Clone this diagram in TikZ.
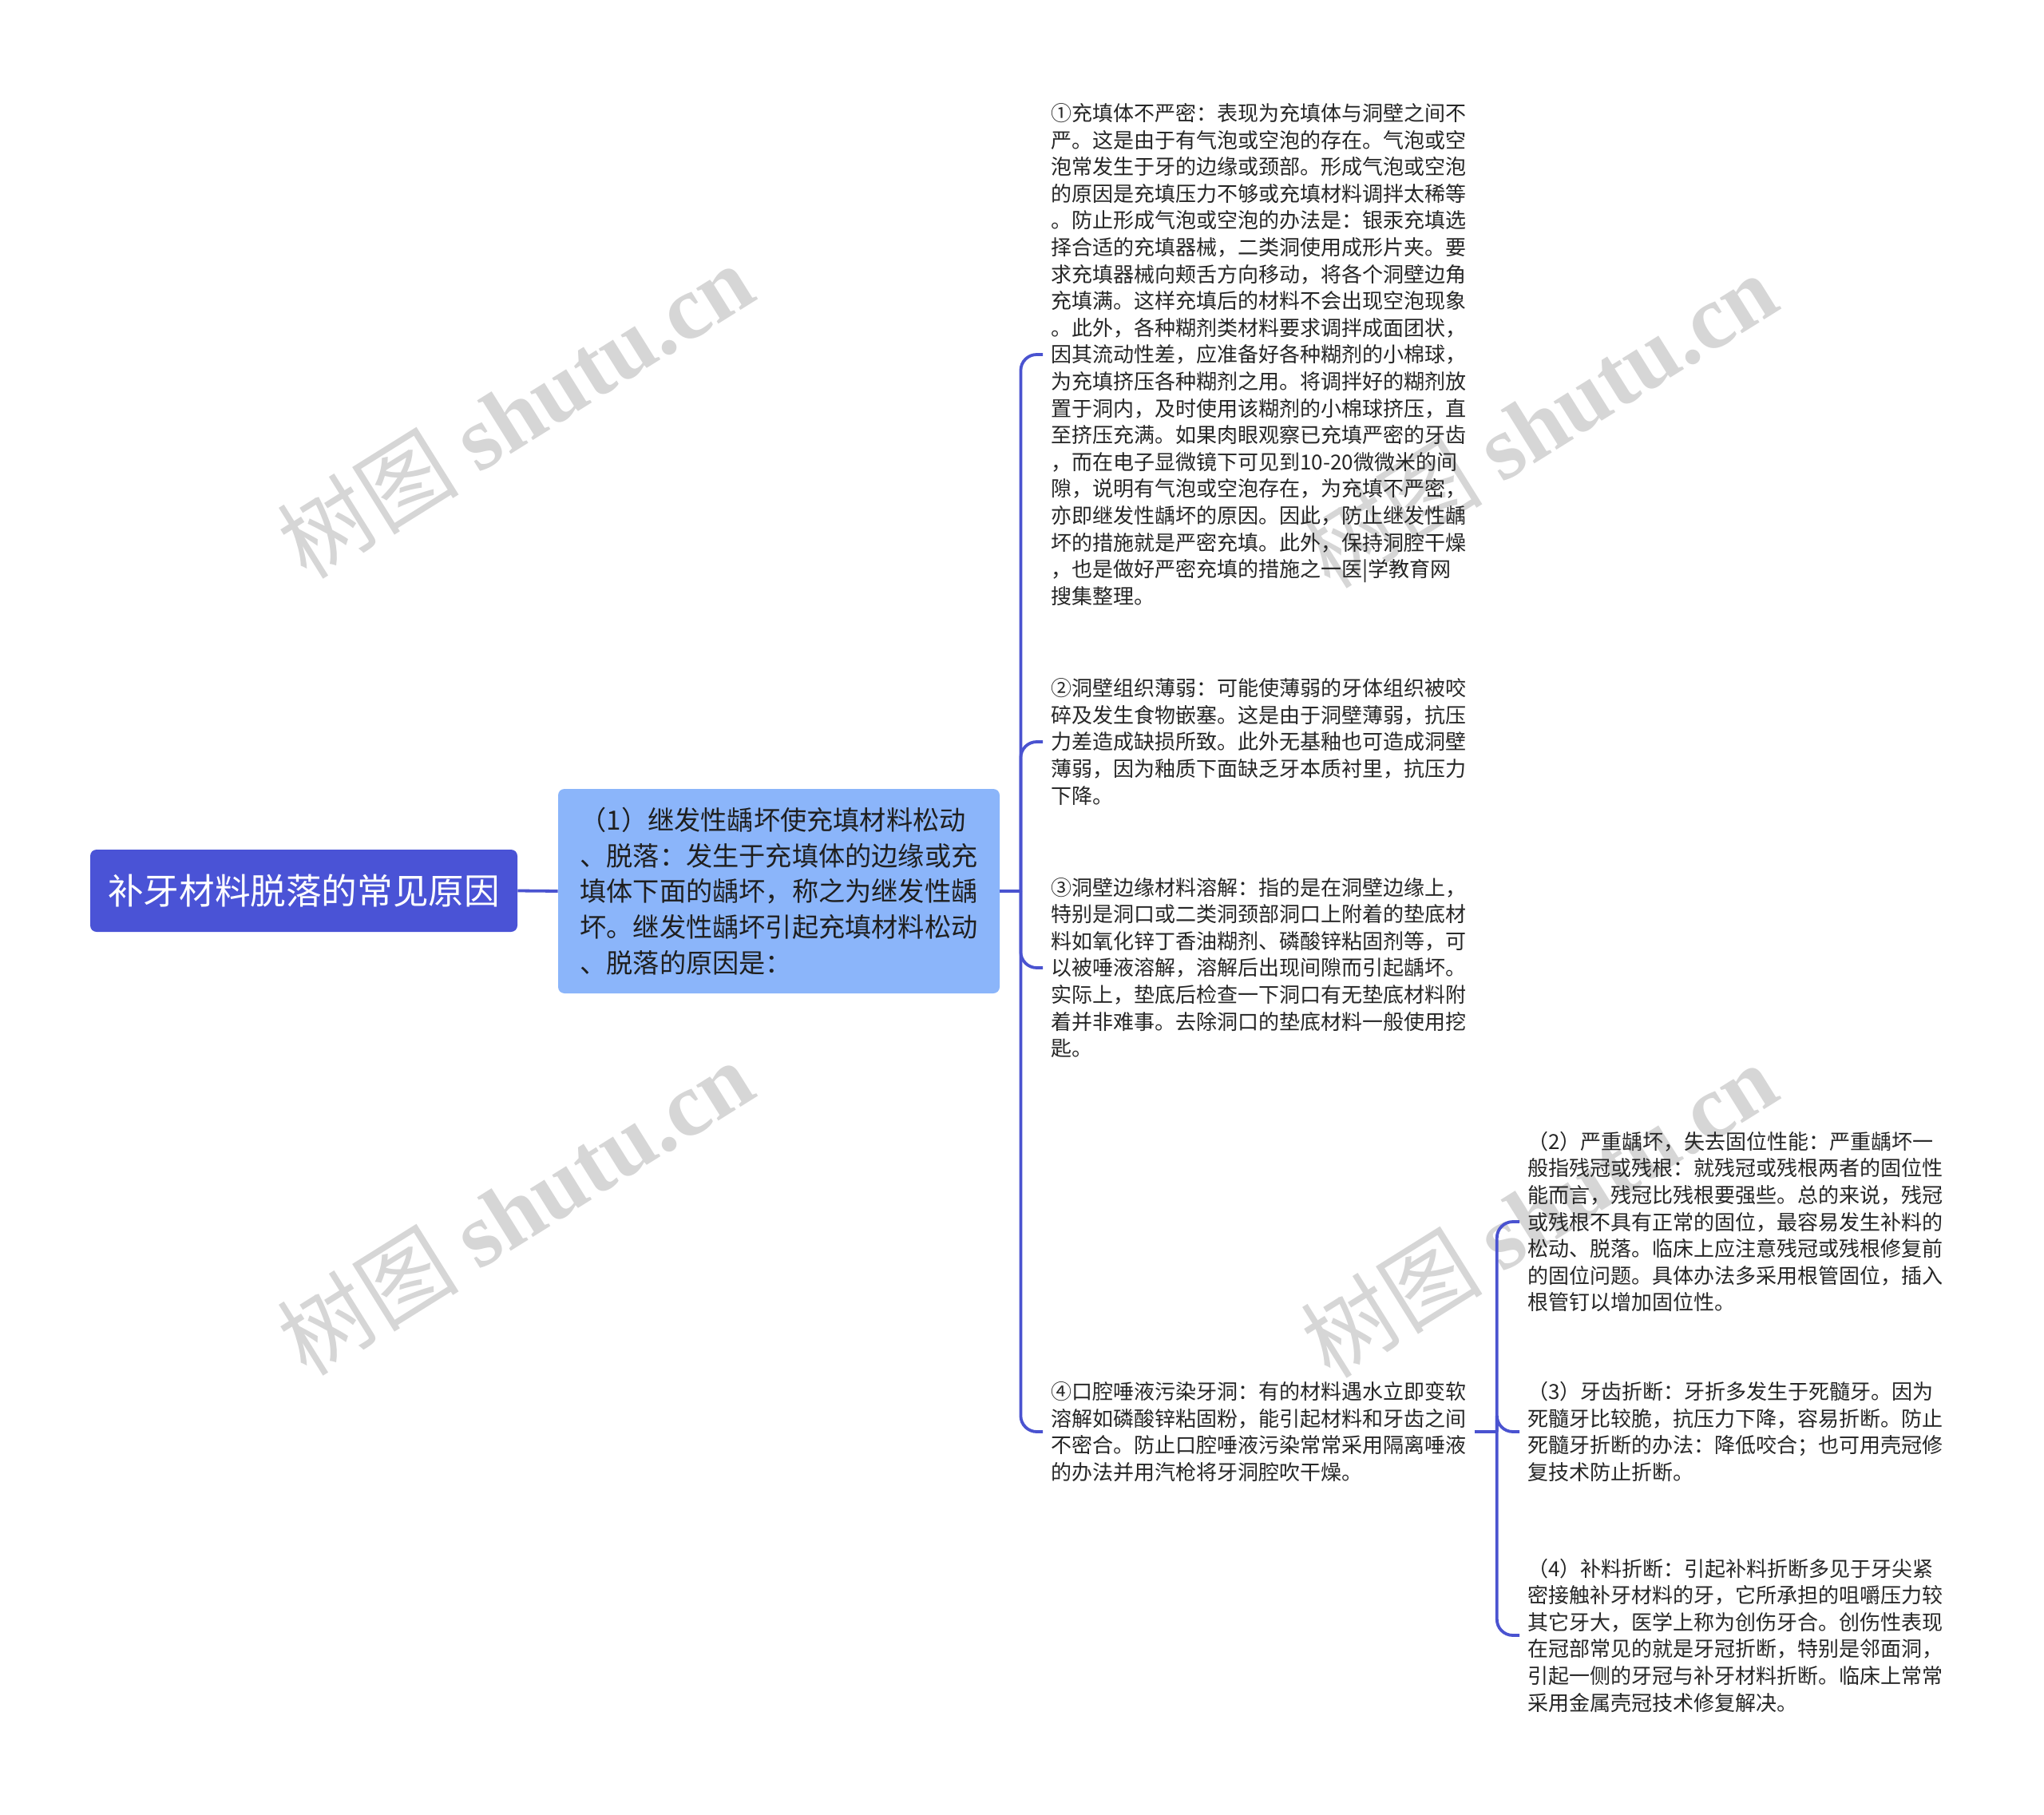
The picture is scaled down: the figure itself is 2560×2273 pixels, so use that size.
\documentclass[tikz,border=0pt]{standalone}
\usepackage{fontspec}
\setmainfont{Noto Sans CJK SC}
\newfontfamily\wmfont{Liberation Serif}
\usetikzlibrary{calc}

\definecolor{rootblue}{HTML}{4A53D6}
\definecolor{topicblue}{HTML}{8BB5FA}
\definecolor{linkblue}{HTML}{4A53D0}

\begin{document}
\begin{tikzpicture}[x=0.5pt, y=-0.5pt,
  root/.style={fill=rootblue, rounded corners=4pt, text=white, inner sep=0pt,
    font=\fontsize{22.3}{26}\selectfont, minimum width=267.5pt, minimum height=51.5pt},
  topic/.style={fill=topicblue, rounded corners=4pt, text=black!88, inner sep=0pt, align=left,
    font=\fontsize{16.6}{22.4}\selectfont, minimum width=276.5pt, minimum height=128pt},
  leaf/.style={anchor=west, align=left, text=black!85, inner xsep=5pt, inner ysep=2pt,
    font=\fontsize{13}{16.8}\selectfont},
  link/.style={draw=linkblue, line width=1.9pt, rounded corners=10pt},
  wmark/.style={text=black!16, rotate=32, inner sep=0pt, font=\fontsize{57}{57}\selectfont}]

\useasboundingbox (0,0) rectangle (2560,2273);

% watermarks
\foreach \wx/\wy [count=\i] in {645/514, 645/1512, 1927/526, 1927/1515}
  \node[wmark] (wm\i) at (\wx,\wy) {树图 {\wmfont\bfseries shutu.cn}};

\node[root] (root) at (380.5,1115.5) {补牙材料脱落的常见原因};

\node[topic] (t1) at (975.5,1116) {（1）继发性龋坏使充填材料松动\\
、脱落：发生于充填体的边缘或充\\
填体下面的龋坏，称之为继发性龋\\
坏。继发性龋坏引起充填材料松动\\
、脱落的原因是：};

\node[leaf] (l1) at (1306,444) {①充填体不严密：表现为充填体与洞壁之间不\\
严。这是由于有气泡或空泡的存在。气泡或空\\
泡常发生于牙的边缘或颈部。形成气泡或空泡\\
的原因是充填压力不够或充填材料调拌太稀等\\
。防止形成气泡或空泡的办法是：银汞充填选\\
择合适的充填器械，二类洞使用成形片夹。要\\
求充填器械向颊舌方向移动，将各个洞壁边角\\
充填满。这样充填后的材料不会出现空泡现象\\
。此外，各种糊剂类材料要求调拌成面团状，\\
因其流动性差，应准备好各种糊剂的小棉球，\\
为充填挤压各种糊剂之用。将调拌好的糊剂放\\
置于洞内，及时使用该糊剂的小棉球挤压，直\\
至挤压充满。如果肉眼观察已充填严密的牙齿\\
，而在电子显微镜下可见到10-20微微米的间\\
隙，说明有气泡或空泡存在，为充填不严密，\\
亦即继发性龋坏的原因。因此，防止继发性龋\\
坏的措施就是严密充填。此外，保持洞腔干燥\\
，也是做好严密充填的措施之一医|学教育网\\
搜集整理。};

\node[leaf] (l2) at (1306,929) {②洞壁组织薄弱：可能使薄弱的牙体组织被咬\\
碎及发生食物嵌塞。这是由于洞壁薄弱，抗压\\
力差造成缺损所致。此外无基釉也可造成洞壁\\
薄弱，因为釉质下面缺乏牙本质衬里，抗压力\\
下降。};

\node[leaf] (l3) at (1306,1212) {③洞壁边缘材料溶解：指的是在洞壁边缘上，\\
特别是洞口或二类洞颈部洞口上附着的垫底材\\
料如氧化锌丁香油糊剂、磷酸锌粘固剂等，可\\
以被唾液溶解，溶解后出现间隙而引起龋坏。\\
实际上，垫底后检查一下洞口有无垫底材料附\\
着并非难事。去除洞口的垫底材料一般使用挖\\
匙。};

\node[leaf] (l4) at (1306,1793) {④口腔唾液污染牙洞：有的材料遇水立即变软\\
溶解如磷酸锌粘固粉，能引起材料和牙齿之间\\
不密合。防止口腔唾液污染常常采用隔离唾液\\
的办法并用汽枪将牙洞腔吹干燥。};

\node[leaf] (s2) at (1903,1530) {（2）严重龋坏，失去固位性能：严重龋坏一\\
般指残冠或残根：就残冠或残根两者的固位性\\
能而言，残冠比残根要强些。总的来说，残冠\\
或残根不具有正常的固位，最容易发生补料的\\
松动、脱落。临床上应注意残冠或残根修复前\\
的固位问题。具体办法多采用根管固位，插入\\
根管钉以增加固位性。};

\node[leaf] (s3) at (1903,1793) {（3）牙齿折断：牙折多发生于死髓牙。因为\\
死髓牙比较脆，抗压力下降，容易折断。防止\\
死髓牙折断的办法：降低咬合；也可用壳冠修\\
复技术防止折断。};

\node[leaf] (s4) at (1903,2048) {（4）补料折断：引起补料折断多见于牙尖紧\\
密接触补牙材料的牙，它所承担的咀嚼压力较\\
其它牙大，医学上称为创伤牙合。创伤性表现\\
在冠部常见的就是牙冠折断，特别是邻面洞，\\
引起一侧的牙冠与补牙材料折断。临床上常常\\
采用金属壳冠技术修复解决。};

%%%%%%%%%%%%
\draw[link] (root.east) -- (t1.west);

\coordinate (j1) at ($(t1.east)+(26,0)$);
\draw[link] (t1.east) -- (j1);
\foreach \n in {l1,l2,l3,l4}{\draw[link] (j1) |- (\n.west);}

\coordinate (j2) at ($(l4.east)+(28,0)$);
\draw[link] (l4.east) -- (j2);
\foreach \n in {s2,s3,s4}{\draw[link] (j2) |- (\n.west);}
\end{tikzpicture}
\end{document}
